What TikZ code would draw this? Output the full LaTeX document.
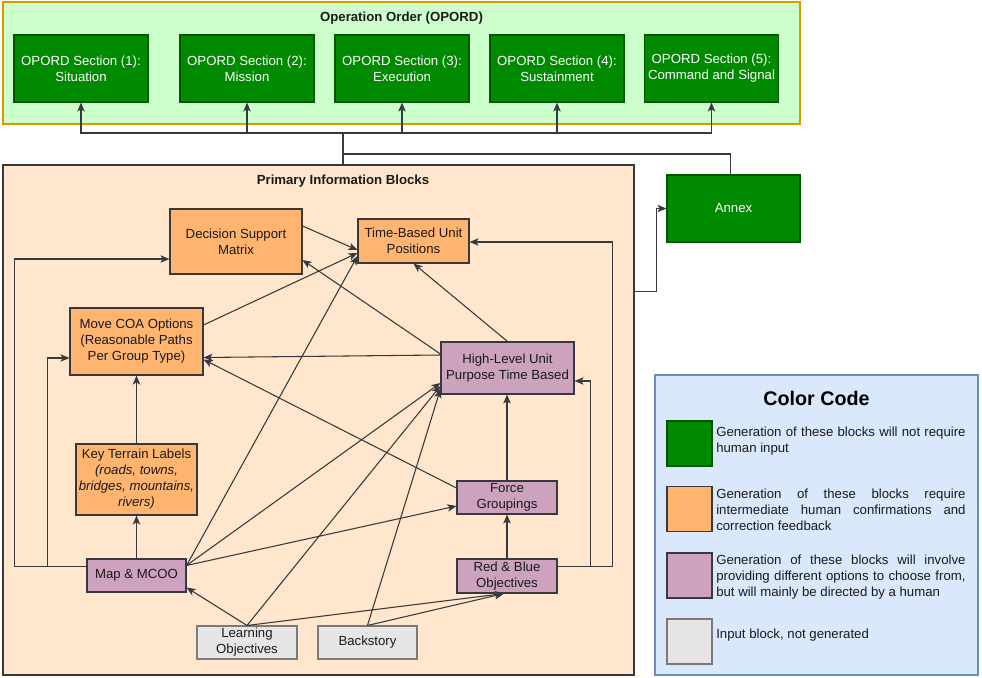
\documentclass[tikz,border=0pt]{standalone}
\usepackage{fontspec}
\setmainfont{Liberation Sans}
\usetikzlibrary{arrows.meta,calc}
\definecolor{gfill}{HTML}{008A00}
\definecolor{gline}{HTML}{005700}
\definecolor{ofill}{HTML}{FFB570}
\definecolor{pfill}{HTML}{CDA2BE}
\definecolor{grfill}{HTML}{E6E6E6}
\definecolor{grline}{HTML}{7A7A7A}
\definecolor{lgreen}{HTML}{CCFFCC}
\definecolor{peach}{HTML}{FFE6CC}
\definecolor{lblue}{HTML}{DAE8FC}
\definecolor{bline}{HTML}{6C8EBF}
\definecolor{oline}{HTML}{D79B00}
\definecolor{dline}{HTML}{36393D}
\definecolor{txt}{HTML}{1A1A1A}
\tikzset{
  sz/.style 2 args={minimum width=#1*0.75pt, minimum height=#2*0.75pt},
  box/.style={draw, rectangle, inner sep=0pt, align=center, line width=0.8pt},
  gbox/.style={box, fill=gfill, draw=gline, text=white},
  obox/.style={box, fill=ofill, draw=dline, text=txt},
  pbox/.style={box, fill=pfill, draw=dline, text=txt},
  ibox/.style={box, fill=grfill, draw=grline, text=txt},
  conn/.style={draw=dline, line width=0.8pt},
  arr/.style={conn, -{Stealth[length=6.8pt,width=5.6pt,inset=1.8pt]}},
  ttl/.style={font=\fontsize{9.9}{12}\selectfont\bfseries, text=txt, inner sep=0pt},
  legtxt/.style={anchor=west, text width=187pt, align=justify, inner sep=0pt, text=txt}
}
\begin{document}
\begin{tikzpicture}[x=0.75pt,y=-0.75pt,font=\fontsize{9.9}{12}\selectfont]
\useasboundingbox (0,0) rectangle (982,678);
\fill[white] (0,0) rectangle (982,678);

% containers
\node[box, fill=lgreen, draw=oline, sz={797}{122}] (opord) at (401.5,63) {};
\node[ttl] (opordt) at (401.5,18) {Operation Order (OPORD)};
\node[box, fill=peach, draw=dline, sz={631}{510}] (prim) at (318.5,420) {};
\node[ttl] (primt) at (343,181) {Primary Information Blocks};
\node[box, fill=lblue, draw=bline, sz={323}{300}] (leg) at (816.5,525) {};
\node[ttl, font=\fontsize{14.8}{16}\selectfont\bfseries, text=black] (legt) at (816.5,398) {Color Code};

% OPORD sections
\node[gbox, sz={134}{67}] (s1) at (81,68.5) {OPORD Section (1):\\Situation};
\node[gbox, sz={134}{67}] (s2) at (247,68.5) {OPORD Section (2):\\Mission};
\node[gbox, sz={134}{67}] (s3) at (402,68.5) {OPORD Section (3):\\Execution};
\node[gbox, sz={134}{67}] (s4) at (557,68.5) {OPORD Section (4):\\Sustainment};
\node[gbox, sz={134}{67}] (s5) at (711.5,68.5) {OPORD Section (5):\\Command and Signal};
\node[gbox, sz={133}{67}] (annex) at (733.5,208.5) {Annex};

% primary blocks
\node[obox, sz={132}{65}] (dsm) at (236,241.5) {Decision Support\\Matrix};
\node[obox, sz={111}{44}] (tbup) at (413.5,241) {Time-Based Unit\\Positions};
\node[obox, sz={133}{67}] (coa) at (136.5,341.5) {Move COA Options\\(Reasonable Paths\\Per Group Type)};
\node[pbox, sz={133}{52}] (hlup) at (507.5,368) {High-Level Unit\\Purpose Time Based};
\node[obox, sz={121}{71}] (keyt) at (136.5,479.5) {Key Terrain Labels\\\textit{(roads, towns,}\\\textit{bridges, mountains,}\\\textit{rivers)}};
\node[pbox, sz={100}{33}] (fg) at (507,497.5) {Force\\Groupings};
\node[pbox, sz={99}{33}] (map) at (136.5,575.5) {Map \& MCOO};
\node[pbox, sz={100}{34}] (rb) at (507,576) {Red \& Blue\\Objectives};
\node[ibox, sz={100}{33}] (lo) at (247,642.5) {Learning\\Objectives};
\node[ibox, sz={99}{33}] (back) at (367.5,642.5) {Backstory};

% legend
\node[box, fill=gfill, draw=gline, sz={45}{45}] (ls1) at (689.5,443.5) {};
\node[box, fill=ofill, draw=dline, sz={45}{45}] (ls2) at (689.5,509) {};
\node[box, fill=pfill, draw=dline, sz={45}{45}] (ls3) at (689.5,575.5) {};
\node[box, fill=grfill, draw=grline, sz={45}{45}] (ls4) at (689.5,641.5) {};
\node[legtxt] (lt1) at (716,441.5) {Generation of these blocks will not require\linebreak human input};
\node[legtxt] (lt2) at (716,510) {Generation of these blocks require\linebreak intermediate human confirmations and\linebreak correction feedback};
\node[legtxt] (lt3) at (716,577) {Generation of these blocks will involve\linebreak providing different options to choose from,\linebreak but will mainly be directed by a human};
\node[legtxt] (lt4) at (716,635) {Input block, not generated};

% OPORD bus
\coordinate (bus) at (343,133);
\coordinate (bus2) at (343,154);
\draw[conn] (bus |- prim.north) -- (bus);
\draw[arr] (bus) -| (s1.south);
\draw[arr] (bus) -| (s2.south);
\draw[arr] (bus) -| (s3.south);
\draw[arr] (bus) -| (s4.south);
\draw[arr] (bus) -| (s5.south);
\draw[conn] (bus2) -| ($(annex.north)+(-3,0)$);
\draw[arr] ($(prim.north east)+(0,127)$) -- ++(22,0) |- (annex.west);

% primary connectors
\coordinate (mapR) at ($(map.north east)+(0,7)$);
\coordinate (mapL) at ($(map.north west)+(0,8)$);
\coordinate (rbR) at ($(rb.north east)+(0,8)$);
\draw[arr] (mapL) -- ++(-72,0) |- ($(dsm.west)+(0,17.5)$);
\draw[arr] ($(mapL)+(-39,0)$) |- ($(coa.west)+(0,16.5)$);
\draw[arr] (map.north) -- (keyt.south);
\draw[arr] (keyt.north) -- (coa.south);
\draw[arr] ($(dsm.east)+(0,-15.5)$) -- ($(tbup.west)+(0,9)$);
\draw[arr] ($(coa.east)+(0,-16.5)$) -- ($(tbup.west)+(0,12)$);
\draw[arr] (mapR) -- ($(tbup.west)+(0,15)$);
\draw[arr] ($(hlup.west)+(0,-14)$) -- ($(dsm.east)+(0,18.5)$);
\draw[arr] ($(hlup.west)+(0,-13)$) -- ($(coa.east)+(0,16)$);
\draw[arr] (hlup.north) -- (tbup.south);
\draw[arr] ($(fg.west)+(0,-9.5)$) -- ($(coa.east)+(0,18)$);
\draw[arr] (mapR) -- ($(hlup.west)+(0,15)$);
\draw[arr] (lo.north) -- ($(hlup.west)+(0,18)$);
\draw[arr] (back.north) -- ($(hlup.west)+(0,21)$);
\draw[arr] (mapR) -- ($(fg.west)+(0,8.5)$);
\draw[arr] (fg.north) -- (fg.north |- hlup.south);
\draw[arr] (rb.north) -- (fg.south);
\draw[arr] (rbR) -- ++(33,0) |- ($(hlup.east)+(0,13)$);
\draw[arr] (rbR) -- ++(55,0) |- ($(tbup.east)+(0,1)$);
\draw[arr] (lo.north) -- ($(map.south east)+(0,-5)$);
\draw[arr] (lo.north) -- ($(rb.south)+(-3,0)$);
\draw[arr] (back.north) -- ($(rb.south)+(-3,0)$);
\end{tikzpicture}
\end{document}
